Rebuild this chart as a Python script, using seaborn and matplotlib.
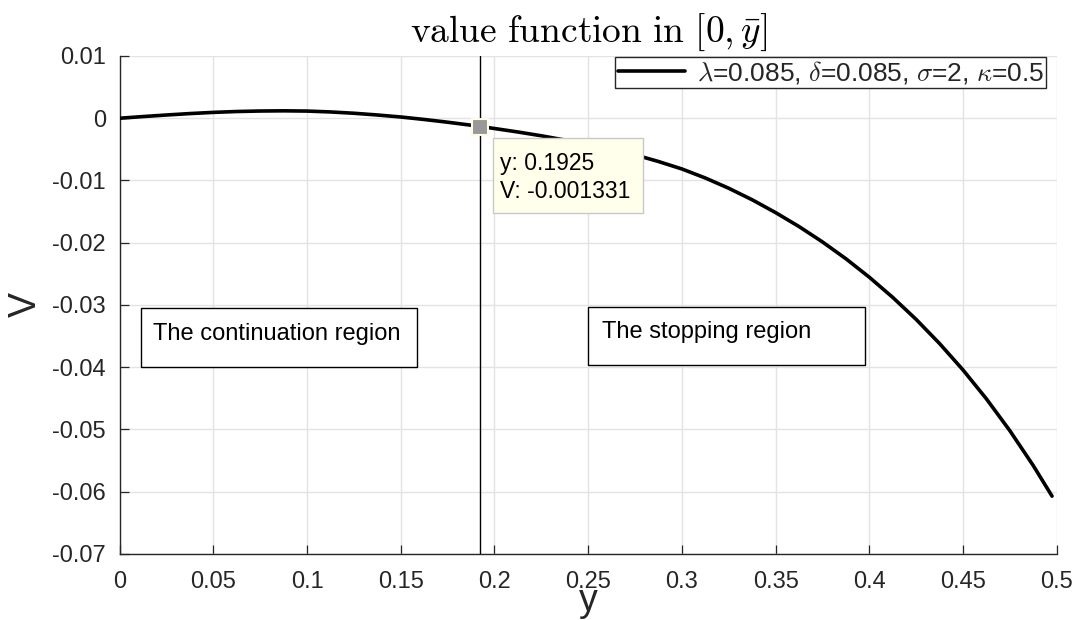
import matplotlib
matplotlib.use("Agg")
import matplotlib.pyplot as plt
import seaborn as sns
import pandas as pd
from matplotlib.patches import Rectangle

# ---- data ----
y_vals = [0.0, 0.0125, 0.025, 0.0375, 0.05, 0.0625, 0.075, 0.0875, 0.1, 0.1125,
          0.125, 0.1375, 0.15, 0.1625, 0.175, 0.1875, 0.1925, 0.2, 0.2125, 0.225,
          0.2375, 0.25, 0.2625, 0.275, 0.2875, 0.3, 0.3125, 0.325, 0.3375, 0.35,
          0.3625, 0.375, 0.3875, 0.4, 0.4125, 0.425, 0.4375, 0.45, 0.4625, 0.475,
          0.4875, 0.4975]
V_vals = [0.0, 0.00027, 0.00052, 0.00075, 0.00094, 0.00108, 0.00116, 0.00119, 0.00115, 0.00101,
          0.00080, 0.00052, 0.00020, -0.00020, -0.00064, -0.00112, -0.001331, -0.00165, -0.00221, -0.00282,
          -0.00350, -0.00422, -0.00499, -0.00588, -0.00695, -0.00815, -0.00960, -0.01125, -0.01310, -0.01516,
          -0.01740, -0.01987, -0.02257, -0.02554, -0.02878, -0.03232, -0.03620, -0.04044, -0.04509, -0.05020,
          -0.05581, -0.06071]
x_ticks = [0, 0.05, 0.1, 0.15, 0.2, 0.25, 0.3, 0.35, 0.4, 0.45, 0.5]
x_ticklabels = ["0", "0.05", "0.1", "0.15", "0.2", "0.25", "0.3", "0.35", "0.4", "0.45", "0.5"]
y_ticks = [0.01, 0, -0.01, -0.02, -0.03, -0.04, -0.05, -0.06, -0.07]
y_ticklabels = ["0.01", "0", "-0.01", "-0.02", "-0.03", "-0.04", "-0.05", "-0.06", "-0.07"]
legend_label = r"$\lambda$=0.085, $\delta$=0.085, $\sigma$=2, $\kappa$=0.5"
y_bar = 0.1925
V_bar = -0.001331
tip_lines = ["y: 0.1925", "V: -0.001331"]
region_labels = ["The continuation region", "The stopping region"]

df = pd.DataFrame({"y": y_vals, "V": V_vals})

sns.set_style("whitegrid")
plt.rcParams["font.family"] = ["Liberation Sans", "DejaVu Sans"]
plt.rcParams["mathtext.fontset"] = "cm"
plt.rcParams["axes.unicode_minus"] = False

DARK = "#262626"
fig = plt.figure(figsize=(10.75, 6.2), dpi=100)
ax = fig.add_axes([0.1113, 0.1065, 0.8717, 0.8032])

sns.lineplot(data=df, x="y", y="V", color="black", linewidth=2.6, ax=ax,
             label=legend_label, zorder=3)

ax.set_xlim(0, 0.5)
ax.set_ylim(-0.07, 0.01)
ax.set_xticks(x_ticks)
ax.set_xticklabels(x_ticklabels)
ax.set_yticks(y_ticks)
ax.set_yticklabels(y_ticklabels)
ax.tick_params(axis="both", direction="in", length=6.5, width=0.9, colors=DARK,
               labelsize=17, bottom=True, left=True)
ax.tick_params(axis="x", pad=12)
ax.tick_params(axis="y", pad=10)
ax.grid(True, color="#e3e3e3", linewidth=1.0)
for s in ["top", "right"]:
    ax.spines[s].set_visible(False)
for s in ["left", "bottom"]:
    ax.spines[s].set_color(DARK)
    ax.spines[s].set_linewidth(1.0)

ax.set_xlabel("y", fontsize=27, color=DARK, labelpad=-7)
ax.set_ylabel("V", fontsize=27, color=DARK, labelpad=6)
ax.set_title(r"$\mathrm{value\ function\ in\ }[0,\bar{y}]$", fontsize=27,
             color="black", pad=10)

# vertical line at the threshold
ax.axvline(y_bar, color="black", linewidth=1.0, zorder=4)
# data tip marker
ax.plot([y_bar], [V_bar], marker="s", markersize=11.5, markerfacecolor="#999999",
        markeredgecolor="#fffbe6", markeredgewidth=1.5, zorder=6)
# data tip box
ax.add_patch(Rectangle((0.199, -0.01527), 0.0802, 0.01205, facecolor="#ffffeb",
                       edgecolor="#c8c8c8", linewidth=1.0, zorder=5))
ax.text(0.2028, -0.00723, tip_lines[0], fontsize=16.5, color="black",
        va="center", ha="left", zorder=6)
ax.text(0.2028, -0.01178, tip_lines[1], fontsize=16.5, color="black",
        va="center", ha="left", zorder=6)

# region boxes
ax.add_patch(Rectangle((0.0112, -0.0400), 0.1473, 0.00945, facecolor="white",
                       edgecolor="black", linewidth=1.0, zorder=5))
ax.text(0.0180, -0.0346, region_labels[0], fontsize=17, color="black",
        va="center", ha="left", zorder=6)
ax.add_patch(Rectangle((0.2501, -0.0397), 0.1476, 0.0094, facecolor="white",
                       edgecolor="black", linewidth=1.0, zorder=5))
ax.text(0.2572, -0.0344, region_labels[1], fontsize=17, color="black",
        va="center", ha="left", zorder=6)

leg = ax.legend(loc="upper right", bbox_to_anchor=(0.9886, 0.998), borderaxespad=0,
                fontsize=19, frameon=True, fancybox=False, framealpha=1,
                edgecolor=DARK, handlelength=2.55, borderpad=0.08, handletextpad=0.45)
leg.get_frame().set_linewidth(1.0)
leg.set_zorder(7)

fig.savefig("out.png", dpi=100)
